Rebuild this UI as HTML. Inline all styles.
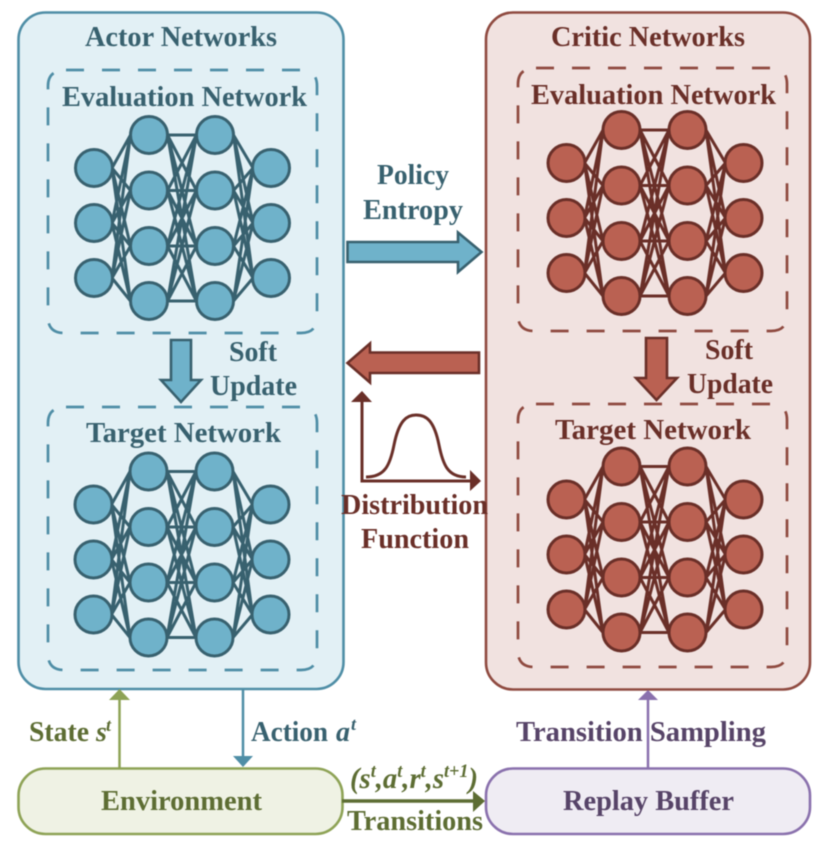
<!DOCTYPE html>
<html><head><meta charset="utf-8"><style>
html,body{margin:0;padding:0;background:#fff;width:824px;height:848px;overflow:hidden}
svg{display:block;filter:blur(.55px)}
text{font-family:"Liberation Serif",serif;font-weight:bold}
</style></head><body>
<svg xmlns="http://www.w3.org/2000/svg" width="824" height="848" viewBox="0 0 824 848">
<defs>
<g id="net">
<g fill="none" stroke-width="3">
<path d="M18 33L36.500 0M18 33L36.500 55.500M18 33L36.500 111M18 33L36.500 166M18 88L36.500 0M18 88L36.500 55.500M18 88L36.500 111M18 88L36.500 166M18 143L36.500 0M18 143L36.500 55.500M18 143L36.500 111M18 143L36.500 166"/>
<path d="M73.500 0H102.500M73.500 0L102.500 55.500M73.500 0L102.500 111M73.500 0L102.500 166M73.500 55.500L102.500 0M73.500 55.500H102.500M73.500 55.500L102.500 111M73.500 55.500L102.500 166M73.500 111L102.500 0M73.500 111L102.500 55.500M73.500 111H102.500M73.500 111L102.500 166M73.500 166L102.500 0M73.500 166L102.500 55.500M73.500 166L102.500 111M73.500 166H102.500"/>
<path d="M139.500 0L159 33M139.500 0L159 88M139.500 0L159 143M139.500 55.500L159 33M139.500 55.500L159 88M139.500 55.500L159 143M139.500 111L159 33M139.500 111L159 88M139.500 111L159 143M139.500 166L159 33M139.500 166L159 88M139.500 166L159 143"/>
</g>
<g stroke-width="3">
<circle cx="0" cy="33" r="18.500"/><circle cx="0" cy="88" r="18.500"/><circle cx="0" cy="143" r="18.500"/>
<circle cx="55" cy="0" r="18.500"/><circle cx="55" cy="55.500" r="18.500"/><circle cx="55" cy="111" r="18.500"/><circle cx="55" cy="166" r="18.500"/>
<circle cx="121" cy="0" r="18.500"/><circle cx="121" cy="55.500" r="18.500"/><circle cx="121" cy="111" r="18.500"/><circle cx="121" cy="166" r="18.500"/>
<circle cx="177" cy="33" r="18.500"/><circle cx="177" cy="88" r="18.500"/><circle cx="177" cy="143" r="18.500"/>
</g>
</g>
<path id="dash" d="M18 0H253Q269 0 269 16V247Q269 263 253 263H16Q0 263 0 247V16Q0 0 18 0" fill="none" stroke-width="2.700" stroke-dasharray="18 18"/>
</defs>

<rect x="18.500" y="12.500" width="325" height="676.500" rx="27" fill="#e2f0f5" stroke="#4f8ea6" stroke-width="2.600"/>
<rect x="486" y="12.500" width="324" height="677" rx="27" fill="#f1e2e0" stroke="#8f4a40" stroke-width="2.600"/>

<use href="#dash" x="48" y="70" stroke="#4f8ea6"/>
<use href="#dash" x="48" y="407" stroke="#4f8ea6"/>
<use href="#dash" x="518" y="68" stroke="#8f4a40"/>
<use href="#dash" x="518" y="404" stroke="#8f4a40"/>

<use href="#net" x="94" y="135" fill="#6fb2ca" stroke="#38616f"/>
<use href="#net" x="93.500" y="471.500" fill="#6fb2ca" stroke="#38616f"/>
<use href="#net" x="566.500" y="130" fill="#ba6152" stroke="#6a2f28"/>
<use href="#net" x="566.500" y="466.500" fill="#ba6152" stroke="#6a2f28"/>

<g fill="#38616f" font-size="28">
<text x="85" y="46" textLength="192" lengthAdjust="spacingAndGlyphs">Actor Networks</text>
<text x="62" y="106" textLength="245" lengthAdjust="spacingAndGlyphs">Evaluation Network</text>
<text x="86" y="442" textLength="195" lengthAdjust="spacingAndGlyphs">Target Network</text>
<text x="229" y="361" textLength="48" lengthAdjust="spacingAndGlyphs">Soft</text>
<text x="210" y="395" textLength="87" lengthAdjust="spacingAndGlyphs">Update</text>
<text x="377" y="184" textLength="72" lengthAdjust="spacingAndGlyphs">Policy</text>
<text x="363" y="219" textLength="100" lengthAdjust="spacingAndGlyphs">Entropy</text>
</g>
<g fill="#6a2f28" font-size="28">
<text x="551" y="46" textLength="194" lengthAdjust="spacingAndGlyphs">Critic Networks</text>
<text x="531" y="104" textLength="245" lengthAdjust="spacingAndGlyphs">Evaluation Network</text>
<text x="555" y="439" textLength="196" lengthAdjust="spacingAndGlyphs">Target Network</text>
<text x="705" y="359" textLength="48" lengthAdjust="spacingAndGlyphs">Soft</text>
<text x="687" y="393" textLength="86" lengthAdjust="spacingAndGlyphs">Update</text>
<text x="341" y="514" textLength="147" lengthAdjust="spacingAndGlyphs">Distribution</text>
<text x="361" y="548" textLength="108" lengthAdjust="spacingAndGlyphs">Function</text>
</g>

<path d="M171 340H191V380H201L181 402L161 380H171Z" fill="#6fb2ca" stroke="#38616f" stroke-width="2.600"/>
<path d="M646 338H667V378H677L656.500 400L636 378H646Z" fill="#ba6152" stroke="#6a2f28" stroke-width="2.600"/>
<path d="M347.500 242H458V232.500L481.500 252L458 272V262H347.500Z" fill="#6fb2ca" stroke="#38616f" stroke-width="2.600"/>
<path d="M479 352.500H370V343.500L347.500 363L370 382.500V373H479Z" fill="#ba6152" stroke="#6a2f28" stroke-width="2.600"/>

<g fill="none" stroke="#6a2f28" stroke-width="3">
<path d="M362 400V481H472"/>
<path d="M366 477C385 477 390 465 394 445C399 420 407 415 416 415C426 415 434 420 439 445C443 465 448 477 466 477"/>
</g>
<path d="M351 402L362 391L372 402ZM470 470L481 481L470 491Z" fill="#6a2f28"/>

<rect x="18.500" y="768.500" width="324" height="65.500" rx="27" fill="#eff2e4" stroke="#8ea356" stroke-width="2.600"/>
<rect x="486" y="768.500" width="324" height="65.500" rx="27" fill="#efecf3" stroke="#8a71ad" stroke-width="2.600"/>

<path d="M119.500 768V700" stroke="#8ea356" stroke-width="2.500" fill="none"/>
<path d="M109 700L119.500 689L130 700Z" fill="#8ea356"/>
<path d="M243 689V757" stroke="#4f8ea6" stroke-width="2.500" fill="none"/>
<path d="M233 756H253L243 767Z" fill="#4f8ea6"/>
<path d="M648 768V700" stroke="#8a71ad" stroke-width="2.500" fill="none"/>
<path d="M638 700L648 690L658 700Z" fill="#8a71ad"/>
<path d="M342 801H474" stroke="#5d6d33" stroke-width="3.400" fill="none"/>
<path d="M473 791L485 801L473 812Z" fill="#5d6d33"/>

<g fill="#5d6d33" font-size="28">
<text x="29" y="741" textLength="60" lengthAdjust="spacingAndGlyphs">State</text>
<text x="96" y="741" font-style="italic">s</text>
<text x="106" y="731" font-size="18" font-style="italic">t</text>
<text x="101" y="810" textLength="161" lengthAdjust="spacingAndGlyphs">Environment</text>
<text x="347" y="830" textLength="136" lengthAdjust="spacingAndGlyphs">Transitions</text>
<text x="350" y="788" font-size="30" font-style="italic" textLength="128" lengthAdjust="spacingAndGlyphs">(s<tspan font-size="19" dy="-11">t</tspan><tspan dy="11">,a</tspan><tspan font-size="19" dy="-11">t</tspan><tspan dy="11">,r</tspan><tspan font-size="19" dy="-11">t</tspan><tspan dy="11">,s</tspan><tspan font-size="19" dy="-11">t+1</tspan><tspan dy="11">)</tspan></text>
</g>
<g fill="#38616f" font-size="28">
<text x="251" y="741" textLength="77" lengthAdjust="spacingAndGlyphs">Action</text>
<text x="336" y="741" font-style="italic">a</text>
<text x="351" y="730" font-size="18" font-style="italic">t</text>
</g>
<g fill="#574468" font-size="28">
<text x="516" y="741" textLength="250" lengthAdjust="spacingAndGlyphs">Transition Sampling</text>
<text x="563" y="810" textLength="171" lengthAdjust="spacingAndGlyphs">Replay Buffer</text>
</g>
</svg>
</body></html>
